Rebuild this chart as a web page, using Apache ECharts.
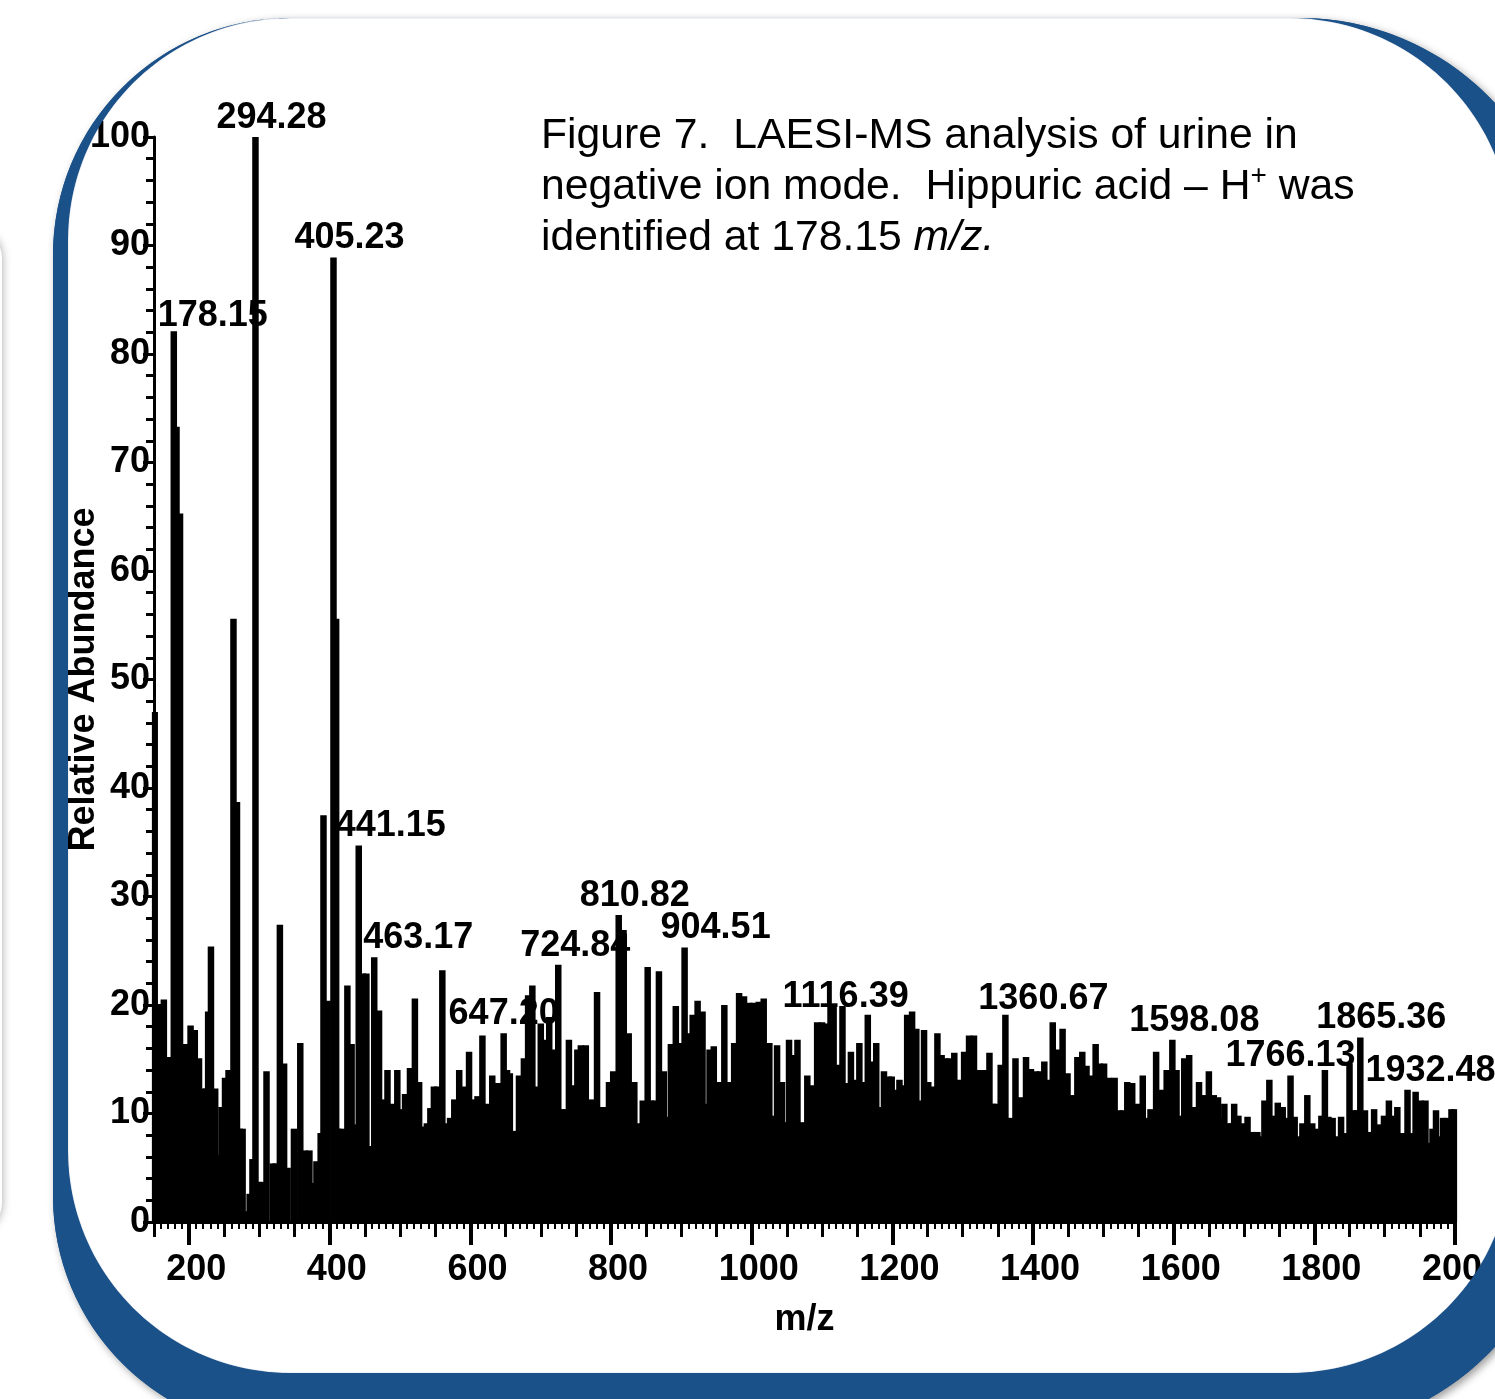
<!DOCTYPE html>
<html>
<head>
<meta charset="utf-8">
<script src="https://cdn.jsdelivr.net/npm/echarts@6/dist/echarts.min.js"></script>
<style>
html,body{margin:0;padding:0;background:#fff;overflow:hidden;}
#chart{width:1495px;height:1399px;}
</style>
</head>
<body>
<div id="chart"></div>
<script>
// ---- data: [m/z, relative abundance] ----
const peaks150to450 = [
  [151,47],[157,20.1],[164,20.5],[168,12.9],[173,15.2],[178.15,82.1],[182,73.3],[187,65.3],[194,16.4],[197,5.6],
  [202,18.1],[208,17.7],[214,15.1],[219,12.3],[224,12.3],[227,19.4],[231,25.4],[237,12.3],[241,6.2],[246,10.6],
  [251,13.3],[256,14.0],[263,55.6],[268,38.7],[272,8.6],[276,8.6],[281,1.0],[286,2.6],[290,5.8],[294.28,100],
  [299,3.7],[304,3.7],[310,13.9],[319,5.4],[323,5.4],[329,27.4],[335,14.6],[340,5.0],[349,8.6],[358,16.5],
  [364,6.6],[371,6.6],[377,3.6],[381,5.6],[387,8.2],[391,37.5],[397,20.4],[405.23,88.9],[409,55.6],[412,8.6],
  [417,8.6],[420,5.8],[425,21.8],[431,16.4],[435,9.0],[441.15,34.7],[447,22.9]
];
const peaks450to800 = [
  [452,22.9],[457,7.0],[463.17,24.4],[470,19.5],[476,11.3],[482,14.0],[489,10.9],[496,14.0],[502,10.4],[507,11.8],
  [514,14.2],[521,20.6],[527,12.9],[533,8.8],[538,9.1],[543,10.5],[548,12.5],[553,12.5],[560,23.2],[566,9.1],
  [571,9.6],[577,11.3],[584,14.0],[591,12.5],[598,15.7],[604,11.3],[610,11.6],[617,17.2],[624,10.9],[631,13.5],
  [638,12.8],[643,12.8],[647.20,17.4],[652,14.0],[656,13.7],[662,8.4],[669,13.5],[676,15.1],[682,20.9],[688,21.8],
  [694,12.5],[700,18.3],[706,16.8],[712,18.9],[719,15.9],[724.84,23.7],[730,10.4],[735,10.4],[740,16.8],[746,12.6],
  [752,15.9],[757,16.3],[764,16.3],[768,9.7],[773,11.3],[780,21.2],[786,10.6],[791,10.6],[797,12.9]
];
const peaks800to1200 = [
  [803,13.9],[810.82,28.3],[814,10.5],[818,26.6],[825,17.4],[833,12.9],[839,9.1],[845,11.2],[852,23.5],[857,11.2],
  [862,11.2],[868,23.1],[875,13.9],[881,9.7],[885,16.4],[892,19.9],[898,16.5],[904.51,25.3],[910,17.4],[916,19.1],
  [923,20.4],[930,19.4],[935,10.9],[940,15.9],[946,16.2],[953,12.9],[961,20.0],[968,12.9],[975,16.5],[982,21.1],
  [989,20.8],[996,20.2],[1003,20.2],[1010,20.3],[1017,20.6],[1025,16.5],[1031,9.8],[1036,16.3],[1043,12.9],[1047,9.2],
  [1053,16.8],[1059,15.4],[1065,16.8],[1072,9.2],[1079,13.5],[1086,12.6],[1093,18.4],[1100,18.4],[1107,18.3],[1112,19.9],
  [1116.39,19.9],[1122,14.5],[1129,19.9],[1135,12.8],[1141,15.7],[1147,13.1],[1153,16.5],[1159,12.9],[1165,19.1],[1171,14.8],
  [1177,16.5],[1182,10.6],[1188,13.9],[1195,13.4],[1199,13.4]
];
const peaks1200to1600 = [
  [1204,12.2],[1210,13.1],[1215,12.6],[1221,19.1],[1228,19.4],[1234,17.8],[1239,11.2],[1245,17.7],[1251,12.9],[1257,12.5],
  [1264,17.4],[1270,15.4],[1275,15.1],[1281,15.1],[1288,15.6],[1295,13.1],[1302,15.7],[1309,17.2],[1316,17.2],[1323,14.0],
  [1330,14.0],[1338,15.6],[1343,10.9],[1347,10.9],[1354,14.5],[1360.67,19.1],[1368,9.6],[1375,15.1],[1383,11.5],[1390,15.2],
  [1397,14.1],[1404,13.9],[1410,13.9],[1416,14.8],[1422,13.1],[1428,18.4],[1435,15.9],[1442,17.8],[1449,13.7],[1456,11.7],
  [1463,15.2],[1470,15.7],[1476,14.4],[1482,13.5],[1489,16.4],[1495,14.6],[1501,14.6],[1508,13.3],[1516,13.3],[1523,10.3],
  [1528,10.3],[1534,12.9],[1541,12.8],[1548,10.9],[1556,13.5],[1562,9.6],[1567,10.4],[1575,15.7],[1582,12.2],[1590,14.0],
  [1594,14.0],[1598.08,16.8]
];
const peaks1600to2000 = [
  [1604,14.0],[1609,9.8],[1615,15.1],[1622,15.4],[1629,10.6],[1636,12.9],[1643,11.7],[1650,13.9],[1657,11.7],[1663,11.5],
  [1667,9.6],[1672,10.9],[1678,9.1],[1682,9.1],[1686,10.9],[1692,9.8],[1698,9.1],[1705,9.7],[1712,8.3],[1719,8.3],
  [1724,7.9],[1729,11.2],[1736,13.1],[1741,9.8],[1748,11.0],[1755,10.6],[1760,9.6],[1766.13,13.5],[1772,9.7],[1777,7.9],
  [1783,9.1],[1790,11.7],[1797,9.1],[1804,8.6],[1810,9.8],[1815,14.0],[1820,9.7],[1826,9.6],[1832,7.9],[1838,9.7],
  [1844,8.2],[1850,14.6],[1856,10.3],[1860,10.3],[1865.36,17.0],[1872,10.3],[1878,8.3],[1885,10.4],[1892,9.0],[1899,9.8],
  [1906,11.2],[1912,9.8],[1918,10.6],[1926,8.2],[1932.48,12.2],[1937,8.2],[1944,12.0],[1951,11.2],[1958,11.2],[1964,7.3],
  [1968,8.6],[1973,10.3],[1977,7.9],[1983,9.6],[1988,9.6],[1991,6.3],[1995,10.4],[1999,10.4]
];
const labeledMz = [178.15,294.28,405.23,441.15,463.17,647.20,724.84,810.82,904.51,1116.39,1360.67,1598.08,1766.13,1865.36,1932.48];
const xTickLabels = [200,400,600,800,1000,1200,1400,1600,1800,2000];
const yTickLabels = [0,10,20,30,40,50,60,70,80,90,100];
const xAxisTitle = 'm/z';
const yAxisTitle = 'Relative Abundance';
const captionLines = [
  'Figure 7.  LAESI-MS analysis of urine in',
  'negative ion mode.  Hippuric acid \u2013 H',
  '+',
  ' was',
  'identified at 178.15 ',
  'm/z.'
];

// ---- styling (label nudges, in px) ----
const labelNudge = {
  '178.15':[39,4],'294.28':[16,0],'405.23':[16,0],'441.15':[32,0],'463.17':[44,0],'647.20':[0,0],
  '724.84':[17,0],'810.82':[16,0],'904.51':[31,0],'1116.39':[12,10],'1360.67':[38,3],'1598.08':[22,0],
  '1766.13':[0,0],'1865.36':[21,0],'1932.48':[23,0]
};

// ---- decorative slide frame (outer blue panel, inner white panel) ----
function roundRectPoints(x0, y0, x1, y1, r, xm) {
  const [tl, tr, br, bl] = r;
  const pts = [[xm, y0]];
  const arc = (cx, cy, rad, a0, a1) => {
    const n = 48;
    for (let i = 0; i <= n; i++) {
      const a = a0 + (a1 - a0) * i / n;
      pts.push([cx + rad * Math.cos(a), cy + rad * Math.sin(a)]);
    }
  };
  arc(x1 - tr, y0 + tr, tr, -Math.PI / 2, 0);
  arc(x1 - br, y1 - br, br, 0, Math.PI / 2);
  arc(x0 + bl, y1 - bl, bl, Math.PI / 2, Math.PI);
  arc(x0 + tl, y0 + tl, tl, Math.PI, Math.PI * 1.5);
  pts.push([xm, y0]);
  return pts;
}
const OUTER = [53, 18, 1566, 1433, [237, 266, 268, 237]];
const INNER = [68, 18, 1512, 1373, [222, 222, 222, 222]];
const ringPoints = roundRectPoints(...OUTER, 800).concat(roundRectPoints(...INNER, 800).reverse());

const FONT = '"Liberation Sans", Arial, Helvetica, sans-serif';
const spectrum = [].concat(peaks150to450, peaks450to800, peaks800to1200, peaks1200to1600, peaks1600to2000);
const labeledSet = labeledMz.map(v => v.toFixed(2));
const barData = spectrum.map(p => {
  const key = p[0].toFixed(2);
  const item = { value: [p[0], p[1]] };
  if (labeledSet.indexOf(key) >= 0) {
    const n = labelNudge[key] || [0,0];
    item.label = { show: true, position: 'top', distance: 1, offset: n, formatter: key,
      fontFamily: FONT, fontWeight: 'bold', fontSize: 36, color: '#000' };
  }
  return item;
});

const chart = echarts.init(document.getElementById('chart'), null, {renderer:'canvas'});
const axisFont = { fontFamily: FONT, fontWeight: 'bold', fontSize: 36, color: '#000' };
chart.setOption({
  backgroundColor: '#fff',
  animation: false,
  grid: { left: 154, right: 40, top: 137, bottom: 177, containLabel: false, outerBoundsMode: 'none' },
  xAxis: [
    {
      type: 'value', min: 150, max: 2000, interval: 50, position: 'bottom',
      axisLine: { show: true, lineStyle: { color: '#000', width: 3 } },
      axisTick: { show: true, length: 15, lineStyle: { color: '#000', width: 3 } },
      minorTick: { show: true, splitNumber: 5, length: 7, lineStyle: { color: '#000', width: 2 } },
      splitLine: { show: false }, minorSplitLine: { show: false },
      axisLabel: Object.assign({ customValues: xTickLabels, margin: 30, padding: [0,0,0,14],
        formatter: v => String(v) }, axisFont),
      name: xAxisTitle, nameLocation: 'middle', nameGap: 80, nameMoveOverlap: false,
      nameTextStyle: axisFont
    },
    {
      type: 'value', min: 150, max: 2000, position: 'bottom',
      axisLine: { show: false },
      axisTick: { show: true, customValues: xTickLabels, length: 23, lineStyle: { color: '#000', width: 4 } },
      axisLabel: { show: false }, splitLine: { show: false }
    }
  ],
  yAxis: {
    type: 'value', min: 0, max: 100, interval: 10,
    axisLine: { show: true, lineStyle: { color: '#000', width: 3 } },
    axisTick: { show: true, length: 11, lineStyle: { color: '#000', width: 3 } },
    minorTick: { show: true, splitNumber: 5, length: 8, lineStyle: { color: '#000', width: 3 } },
    splitLine: { show: false },
    axisLabel: Object.assign({ margin: 4, customValues: yTickLabels, formatter: v => String(v) }, axisFont),
    name: yAxisTitle, nameLocation: 'middle', nameGap: 52, nameMoveOverlap: false,
    nameTextStyle: axisFont
  },
  series: [{
    type: 'bar', xAxisIndex: 0, yAxisIndex: 0,
    data: barData, barWidth: 6.5,
    itemStyle: { color: '#000' },
    emphasis: { disabled: true },
    z: 3
  }],
  graphic: [
    { type: 'rect', z: -30, shape: { x: -400, y: 228, width: 402, height: 1005, r: 30 },
      style: { fill: '#fff', shadowBlur: 10, shadowColor: 'rgba(0,0,0,0.35)' } },
    { type: 'rect', z: -20, shape: { x: OUTER[0], y: OUTER[1], width: OUTER[2]-OUTER[0], height: OUTER[3]-OUTER[1], r: OUTER[4] },
      style: { fill: '#1b5189', shadowBlur: 8, shadowOffsetX: 3, shadowOffsetY: 3, shadowColor: 'rgba(0,0,0,0.4)' } },
    { type: 'rect', z: -10, shape: { x: INNER[0], y: INNER[1], width: INNER[2]-INNER[0], height: INNER[3]-INNER[1], r: INNER[4] },
      style: { fill: '#fff', stroke: '#dfe4ee', lineWidth: 1 } },
    { type: 'polygon', z: 50, shape: { points: ringPoints }, style: { fill: '#1b5189' } },
    { type: 'text', z: 20, left: 541, top: 115,
      style: {
        text: '{n|' + captionLines[0] + '}\n{n|' + captionLines[1] + '}{sup|' + captionLines[2] + '}{n|' + captionLines[3] + '}\n{n|' + captionLines[4] + '}{it|' + captionLines[5] + '}',
        rich: {
          n: { fontFamily: FONT, fontSize: 42.7, lineHeight: 51, fill: '#000' },
          sup: { fontFamily: FONT, fontSize: 28, lineHeight: 51, verticalAlign: 'top', fill: '#000' },
          it: { fontFamily: FONT, fontSize: 42.7, lineHeight: 51, fontStyle: 'italic', fill: '#000' }
        }
      }
    }
  ]
});
</script>
</body>
</html>
